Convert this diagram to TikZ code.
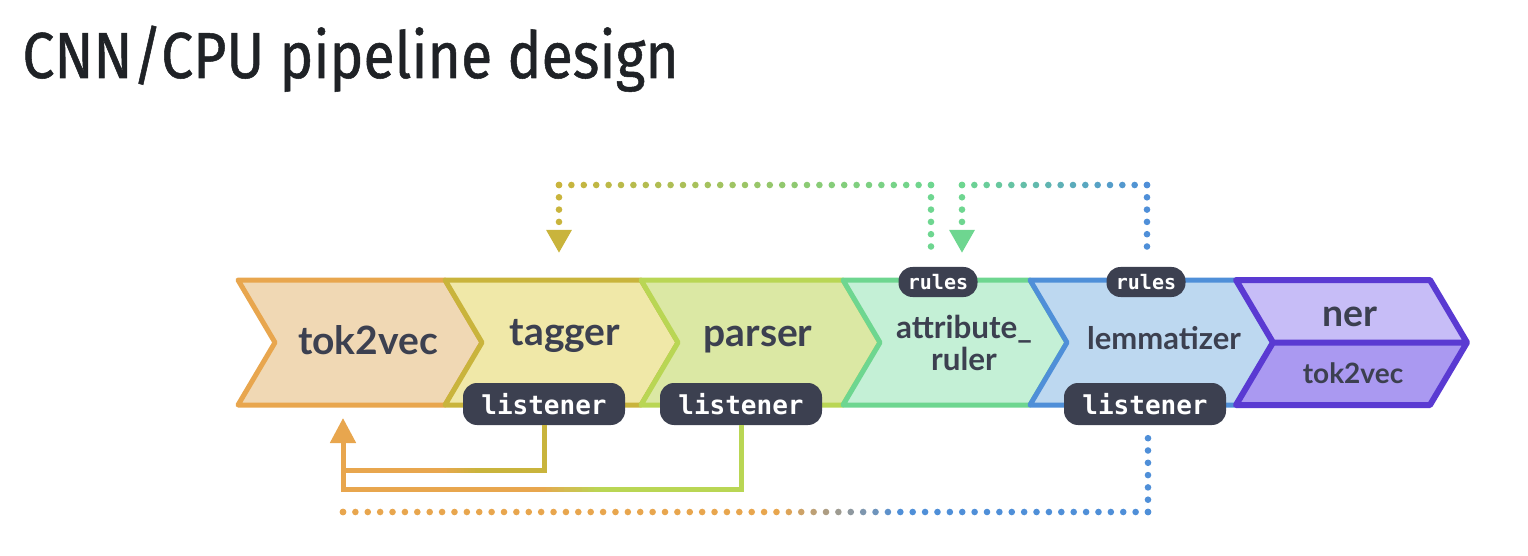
\documentclass[tikz,border=0pt]{standalone}
\usepackage{fontspec}
\newfontfamily\titlefont{Fira Sans}[FakeStretch=0.88, FakeBold=0.8]
\newfontfamily\labelfont{Lato}
\newfontfamily\pillfont{DejaVu Sans Mono}
\usetikzlibrary{arrows.meta,calc}
\definecolor{tokline}{HTML}{E8A64E}
\definecolor{tokfill}{HTML}{F0D8B4}
\definecolor{tagline}{HTML}{C9B43C}
\definecolor{tagfill}{HTML}{F0E8A8}
\definecolor{parline}{HTML}{B9D654}
\definecolor{parfill}{HTML}{DBE8A4}
\definecolor{attline}{HTML}{6ED690}
\definecolor{attfill}{HTML}{C4F0D6}
\definecolor{lemline}{HTML}{4F8FD8}
\definecolor{lemfill}{HTML}{BDD8F0}
\definecolor{nerline}{HTML}{5A3AD2}
\definecolor{nerfill}{HTML}{C7BDF7}
\definecolor{nerlow}{HTML}{AA99F1}
\definecolor{labeltext}{HTML}{3C4050}
\definecolor{pilldark}{HTML}{3C4050}
\definecolor{titletext}{HTML}{1F2226}
\tikzset{
  lbl/.style={text=labeltext, anchor=base, inner sep=0pt, align=center},
  pill/.style={fill=pilldark, text=white, rounded corners=7pt, inner sep=0pt,
    font=\pillfont\bfseries\fontsize{13}{15}\selectfont,
    minimum width=81pt, minimum height=21pt},
  rulepill/.style={pill, font=\pillfont\bfseries\fontsize{10}{12}\selectfont,
    minimum width=39.5pt, minimum height=15pt},
  wire/.style={line width=2.5pt},
  dots/.style={line width=3.3pt, line cap=round, dash pattern=on 0pt off 6.15pt},
}
\begin{document}
\begin{tikzpicture}[x=0.5pt,y=-0.5pt]
  \useasboundingbox (0,0) rectangle (1528,556);
  \node[anchor=base west, inner sep=0pt, text=titletext,
    font=\titlefont\fontsize{32.5}{38}\selectfont] (title) at (22,78) {CNN/CPU pipeline design};

  % pipeline chevrons
  \foreach \l/\r/\c in {238/445/tok,445/641/tag,641/843/par,843/1030/att,1030/1236/lem}
    \filldraw[draw=\c line, fill=\c fill, line width=2.5pt, line join=round]
      (\l,280) -- (\r,280) -- (\r+37,342.5) -- (\r,405) -- (\l,405) -- (\l+37,342.5) -- cycle;
  \fill[nerfill] (1236,280) -- (1430,280) -- (1467,342.5) -- (1273,342.5) -- cycle;
  \fill[nerlow] (1273,342.5) -- (1467,342.5) -- (1430,405) -- (1236,405) -- cycle;
  \draw[nerline, line width=3pt, line join=round]
    (1236,280) -- (1430,280) -- (1467,342.5) -- (1430,405) -- (1236,405) -- (1273,342.5) -- cycle
    (1273,342.5) -- (1467,342.5);

  \node[lbl, font=\labelfont\bfseries\fontsize{19.5}{22}\selectfont] (tok) at (368,354) {tok2vec};
  \node[lbl, font=\labelfont\bfseries\fontsize{19.5}{22}\selectfont] (tagger) at (565,345) {tagger};
  \node[lbl, font=\labelfont\bfseries\fontsize{19.5}{22}\selectfont] (parser) at (758,346) {parser};
  \node[lbl, font=\labelfont\bfseries\fontsize{15.7}{16}\selectfont] (attr) at (964,370) {attribute\_\\ruler};
  \node[lbl, font=\labelfont\bfseries\fontsize{15.5}{18}\selectfont] (lemma) at (1164,350) {lemmatizer};
  \node[lbl, font=\labelfont\bfseries\fontsize{18.7}{22}\selectfont] (ner) at (1350,327) {ner};
  \node[lbl, font=\labelfont\bfseries\fontsize{14}{16}\selectfont] (nertok) at (1353,383) {tok2vec};

  % connector end points
  \coordinate (tokTip) at (343,418);
  \coordinate (tagMixA) at (443,470);
  \coordinate (tagMixB) at (478,470);
  \coordinate (parMixA) at (540,489);
  \coordinate (parMixB) at (600,489);
  \coordinate (lemDown) at (1148,512);
  \coordinate (tokDown) at (343,512);
  \coordinate (tokEnd) at (343,500);
  \coordinate (attUp) at (931,185);
  \coordinate (tagUp) at (559,185);
  \coordinate (tagTip) at (559,253);
  \coordinate (lemUp) at (1147,185);
  \coordinate (attUpB) at (962,185);
  \coordinate (attTip) at (962,253);

  \node[pill] (tagL) at (544,404) {listener};
  \node[pill] (parserL) at (741,404) {listener};
  \node[pill] (lemmaL) at (1145,404) {listener};
  \node[rulepill] (attR) at (938,282) {rules};
  \node[rulepill] (lemmaR) at (1146,282) {rules};

  % listener wires
  \draw[wire, tagline] (tagL.south) |- (tagMixB);
  \foreach \i in {0,...,9}{
    \pgfmathsetmacro\p{10*\i+5}
    \draw[wire, tagline!\p!tokline] ($(tagMixA)!\i/10!(tagMixB)$) -- ($(tagMixA)!\i/10+0.12!(tagMixB)$);
  }
  \draw[wire, tokline, -{Triangle[width=12.5pt,length=12.5pt]}] (tagMixA) -| (tokTip);
  \draw[wire, parline] (parserL.south) |- (parMixB);
  \foreach \i in {0,...,9}{
    \pgfmathsetmacro\p{10*\i+5}
    \draw[wire, parline!\p!tokline] ($(parMixA)!\i/10!(parMixB)$) -- ($(parMixA)!\i/10+0.12!(parMixB)$);
  }
  \draw[wire, tokline] (parMixA) -| (tokTip |- tagMixA);

  % dotted links
  \draw[dots, lemline, shorten >=5pt] (lemDown) -- (lemDown |- lemmaL.south);
  \foreach \i in {0,...,65}{
    \pgfmathsetmacro\p{min(100,max(0,(368-12.385*\i)/1.2))}
    \fill[lemline!\p!tokline] ($(lemDown)!\i/65!(tokDown)$) circle (3.3);
  }
  \draw[dots, tokline] (tokDown) -- (tokEnd);

  \draw[dots, attline, shorten >=10pt] (attUp) -- (attUp |- attR.north);
  \foreach \i in {0,...,30}{
    \pgfmathsetmacro\p{100-100*\i/30}
    \fill[attline!\p!tagline] ($(attUp)!\i/30!(tagUp)$) circle (3.3);
  }
  \draw[dots, tagline, -{Triangle[width=12pt,length=11.5pt]}] (tagUp) -- (tagTip);

  \draw[dots, lemline, shorten >=10pt] (lemUp) -- (lemUp |- lemmaR.north);
  \foreach \i in {0,...,15}{
    \pgfmathsetmacro\p{100-100*\i/15}
    \fill[lemline!\p!attline] ($(lemUp)!\i/15!(attUpB)$) circle (3.3);
  }
  \draw[dots, attline, -{Triangle[width=12pt,length=11.5pt]}] (attUpB) -- (attTip);
\end{tikzpicture}
\end{document}
